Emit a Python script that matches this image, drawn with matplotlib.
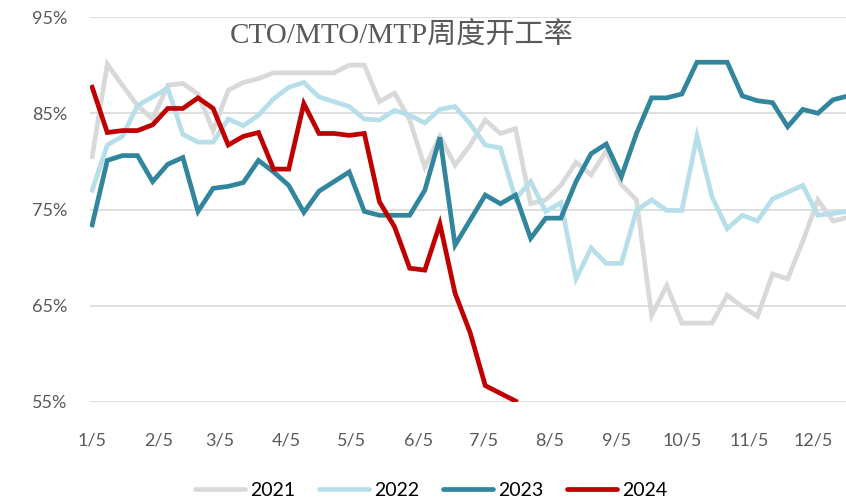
import numpy as np
import matplotlib; matplotlib.use('Agg'); import matplotlib.pyplot as plt

# weekly run rate (%), week 0 = Jan 5
y2021 = [80.5, 90.1, 87.9, 85.8, 84.4, 87.9, 88.1, 87.0, 83.2, 87.4, 88.2, 88.6, 89.2, 89.2, 89.2, 89.2, 89.2,
         90.0, 90.0, 86.2, 87.1, 84.3, 79.4, 82.6, 79.6, 81.7, 84.3, 82.9, 83.4, 75.6, 76.0, 77.5, 79.9,
         78.6, 81.1, 77.6, 76.0, 64.0, 67.1, 63.2, 63.2, 63.2, 66.1, 64.9, 63.9, 68.3, 67.8, 71.7, 76.0, 73.8, 74.2]
y2022 = [77.0, 81.7, 82.6, 85.8, 86.7, 87.6, 82.8, 82.0, 82.0, 84.4, 83.7, 84.8, 86.5, 87.7, 88.2, 86.7, 86.2,
         85.7, 84.4, 84.3, 85.3, 84.8, 84.0, 85.4, 85.7, 83.9, 81.7, 81.4, 76.1, 77.9, 74.8, 75.7, 67.8,
         71.0, 69.4, 69.4, 74.9, 76.0, 74.9, 74.9, 82.6, 76.3, 73.0, 74.4, 73.8, 76.1, 76.8, 77.5, 74.4, 74.6, 74.8]
y2023 = [73.4, 80.1, 80.6, 80.6, 77.9, 79.7, 80.4, 74.8, 77.2, 77.4, 77.8, 80.1, 78.9, 77.5, 74.7, 76.9, 77.9,
         78.9, 74.8, 74.4, 74.4, 74.4, 77.0, 82.5, 71.3, 73.9, 76.5, 75.6, 76.5, 72.0, 74.1, 74.1, 77.9,
         80.8, 81.8, 78.4, 82.9, 86.6, 86.6, 87.0, 90.3, 90.3, 90.3, 86.8, 86.3, 86.1, 83.6, 85.4, 85.0, 86.4, 86.8]
y2024 = [87.7, 83.0, 83.2, 83.2, 83.8, 85.5, 85.5, 86.6, 85.5, 81.7, 82.6, 83.0, 79.2, 79.2, 86.0, 82.9, 82.9,
         82.7, 82.9, 75.8, 73.2, 68.9, 68.7, 73.5, 66.3, 62.2, 56.7, 55.9, 55.1]
years = ['2021', '2022', '2023', '2024']
colors = ['#d9d9d9', '#b7dfe9', '#31859c', '#c00000']
tick_days = [0, 31, 59, 90, 120, 151, 181, 212, 243, 273, 304, 334]
tick_labels = ['1/5', '2/5', '3/5', '4/5', '5/5', '6/5', '7/5', '8/5', '9/5', '10/5', '11/5', '12/5']

fig = plt.figure(figsize=(8.46, 5.0), dpi=100)
ax = fig.add_axes([90/846, 98/500, 756/846, 385/500])
for yr, vals, c in zip(years, [y2021, y2022, y2023, y2024], colors):
    days = np.arange(len(vals)) * 7
    ax.plot(days, vals, color=c, lw=3.4, label=yr, solid_joinstyle='miter')

ax.set_xlim(-1, 349); ax.set_ylim(55, 95)
ax.set_yticks([55, 65, 75, 85, 95])
ax.set_yticklabels([f'{v}%' for v in [55, 65, 75, 85, 95]])
ax.set_xticks(tick_days); ax.set_xticklabels(tick_labels)
ax.grid(axis='y', color='#d9d9d9', lw=1.2); ax.set_axisbelow(True)
for s in ax.spines.values(): s.set_visible(False)
ax.tick_params(length=0, labelsize=13, labelcolor='#595959')
ax.tick_params(axis='x', pad=22); ax.tick_params(axis='y', pad=16)
for t in ax.get_xticklabels() + ax.get_yticklabels(): t.set_family('Lato')

fig.text(402/846, 1 - 35/500, 'CTO/MTO/MTP周度开工率', ha='center', va='center', fontsize=21,
         color='#595959', family=['Liberation Serif', 'Noto Sans CJK SC'])
leg = fig.legend(loc='center', bbox_to_anchor=(431/846, 1 - 490/500), ncol=4, frameon=False,
                 handlelength=2.6, columnspacing=1.2, handletextpad=0.25, prop={'family': 'Lato', 'size': 14})
for h in leg.get_lines(): h.set_solid_capstyle('round')
fig.savefig('out.png', dpi=100)
